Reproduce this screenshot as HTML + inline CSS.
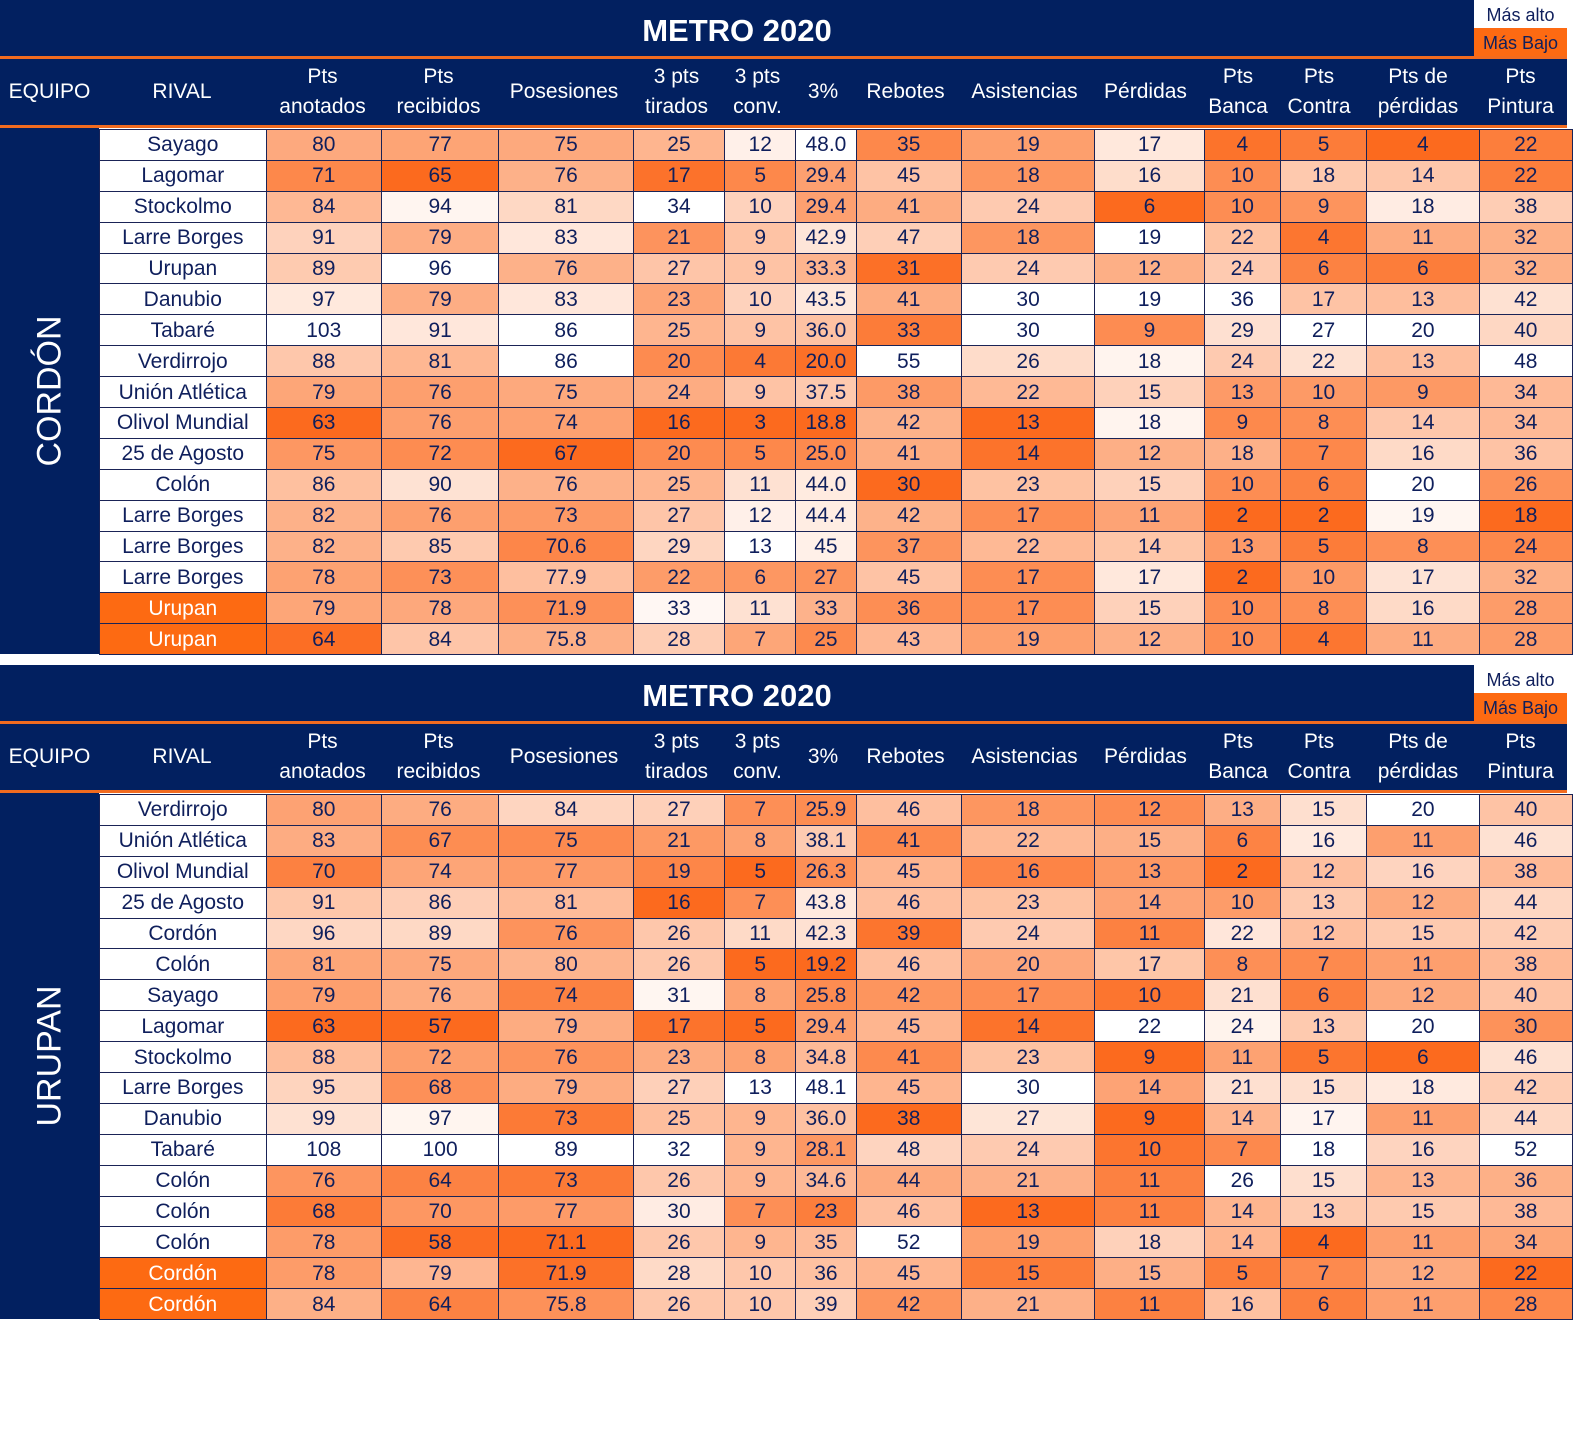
<!DOCTYPE html>
<html><head><meta charset="utf-8">
<style>
body{margin:0;width:1574px;height:1447px;background:#fff;position:relative;font-family:"Liberation Sans",sans-serif;overflow:hidden}
.blk{position:absolute;left:0;width:1567px;height:654px}
.title{position:absolute;left:0;top:0;width:1474px;height:56px;background:#022060;color:#fff;font-size:31px;font-weight:bold;text-align:center;line-height:62px}
.lg1,.lg2{position:absolute;left:1474px;width:93px;height:28px;font-size:18px;text-align:center;line-height:30px;color:#0f1f5c}
.lg1{top:0;background:#fff}
.lg2{top:28px;background:#fd6a12}
.ol{position:absolute;left:0;width:1567px;height:3px;background:#f26b1f}
.hdr{position:absolute;left:0;top:59px;width:1567px;height:66px;background:#022060}
.hdr div{position:absolute;top:0;height:66px;display:flex;align-items:center;justify-content:center;text-align:center;color:#fff;font-size:21px;line-height:30px}
.side{position:absolute;left:0;top:128px;width:99px;height:526px;background:#022060}
.side span{position:absolute;left:50%;top:50%;transform:translate(-50%,-50%) rotate(-90deg);color:#fff;font-size:34px;white-space:nowrap}
table{position:absolute;left:99px;top:129px;border-collapse:collapse;table-layout:fixed;width:1474px}
td{border:1px solid #1a2356;height:29.9px;padding:0;text-align:center;font-size:21px;color:#0f1f5c;white-space:nowrap;overflow:hidden;line-height:29px}
td.hl{background:#fd6a12;color:#fff}
</style></head><body>

<div class="blk" style="top:0">
<div class="title">METRO 2020</div>
<div class="lg1">Más alto</div><div class="lg2">Más Bajo</div>
<div class="ol" style="top:56px"></div>
<div class="hdr">
<div style="left:0;width:99px">EQUIPO</div><div style="left:99px;width:166px">RIVAL</div>
<div style="left:265px;width:115px">Pts<br>anotados</div><div style="left:380px;width:117px">Pts<br>recibidos</div>
<div style="left:497px;width:134px">Posesiones</div><div style="left:631px;width:91px">3 pts<br>tirados</div>
<div style="left:722px;width:71px">3 pts<br>conv.</div><div style="left:793px;width:60px">3%</div>
<div style="left:853px;width:105px">Rebotes</div><div style="left:958px;width:133px">Asistencias</div>
<div style="left:1091px;width:109px">Pérdidas</div><div style="left:1200px;width:76px">Pts<br>Banca</div>
<div style="left:1276px;width:86px">Pts<br>Contra</div><div style="left:1362px;width:112px">Pts de<br>pérdidas</div>
<div style="left:1474px;width:93px">Pts<br>Pintura</div>
</div>
<div class="ol" style="top:125px"></div>
<div class="side"><span>CORDÓN</span></div>
<table class="dt">
<colgroup><col style="width:166px"><col style="width:115px"><col style="width:117px"><col style="width:134px"><col style="width:91px"><col style="width:71px"><col style="width:60px"><col style="width:105px"><col style="width:133px"><col style="width:109px"><col style="width:76px"><col style="width:86px"><col style="width:112px"><col style="width:93px"></colgroup>
<tr><td>Sayago</td><td>80</td><td>77</td><td>75</td><td>25</td><td>12</td><td>48.0</td><td>35</td><td>19</td><td>17</td><td>4</td><td>5</td><td>4</td><td>22</td></tr>
<tr><td>Lagomar</td><td>71</td><td>65</td><td>76</td><td>17</td><td>5</td><td>29.4</td><td>45</td><td>18</td><td>16</td><td>10</td><td>18</td><td>14</td><td>22</td></tr>
<tr><td>Stockolmo</td><td>84</td><td>94</td><td>81</td><td>34</td><td>10</td><td>29.4</td><td>41</td><td>24</td><td>6</td><td>10</td><td>9</td><td>18</td><td>38</td></tr>
<tr><td>Larre Borges</td><td>91</td><td>79</td><td>83</td><td>21</td><td>9</td><td>42.9</td><td>47</td><td>18</td><td>19</td><td>22</td><td>4</td><td>11</td><td>32</td></tr>
<tr><td>Urupan</td><td>89</td><td>96</td><td>76</td><td>27</td><td>9</td><td>33.3</td><td>31</td><td>24</td><td>12</td><td>24</td><td>6</td><td>6</td><td>32</td></tr>
<tr><td>Danubio</td><td>97</td><td>79</td><td>83</td><td>23</td><td>10</td><td>43.5</td><td>41</td><td>30</td><td>19</td><td>36</td><td>17</td><td>13</td><td>42</td></tr>
<tr><td>Tabaré</td><td>103</td><td>91</td><td>86</td><td>25</td><td>9</td><td>36.0</td><td>33</td><td>30</td><td>9</td><td>29</td><td>27</td><td>20</td><td>40</td></tr>
<tr><td>Verdirrojo</td><td>88</td><td>81</td><td>86</td><td>20</td><td>4</td><td>20.0</td><td>55</td><td>26</td><td>18</td><td>24</td><td>22</td><td>13</td><td>48</td></tr>
<tr><td>Unión Atlética</td><td>79</td><td>76</td><td>75</td><td>24</td><td>9</td><td>37.5</td><td>38</td><td>22</td><td>15</td><td>13</td><td>10</td><td>9</td><td>34</td></tr>
<tr><td>Olivol Mundial</td><td>63</td><td>76</td><td>74</td><td>16</td><td>3</td><td>18.8</td><td>42</td><td>13</td><td>18</td><td>9</td><td>8</td><td>14</td><td>34</td></tr>
<tr><td>25 de Agosto</td><td>75</td><td>72</td><td>67</td><td>20</td><td>5</td><td>25.0</td><td>41</td><td>14</td><td>12</td><td>18</td><td>7</td><td>16</td><td>36</td></tr>
<tr><td>Colón</td><td>86</td><td>90</td><td>76</td><td>25</td><td>11</td><td>44.0</td><td>30</td><td>23</td><td>15</td><td>10</td><td>6</td><td>20</td><td>26</td></tr>
<tr><td>Larre Borges</td><td>82</td><td>76</td><td>73</td><td>27</td><td>12</td><td>44.4</td><td>42</td><td>17</td><td>11</td><td>2</td><td>2</td><td>19</td><td>18</td></tr>
<tr><td>Larre Borges</td><td>82</td><td>85</td><td>70.6</td><td>29</td><td>13</td><td>45</td><td>37</td><td>22</td><td>14</td><td>13</td><td>5</td><td>8</td><td>24</td></tr>
<tr><td>Larre Borges</td><td>78</td><td>73</td><td>77.9</td><td>22</td><td>6</td><td>27</td><td>45</td><td>17</td><td>17</td><td>2</td><td>10</td><td>17</td><td>32</td></tr>
<tr><td class="hl">Urupan</td><td>79</td><td>78</td><td>71.9</td><td>33</td><td>11</td><td>33</td><td>36</td><td>17</td><td>15</td><td>10</td><td>8</td><td>16</td><td>28</td></tr>
<tr><td class="hl">Urupan</td><td>64</td><td>84</td><td>75.8</td><td>28</td><td>7</td><td>25</td><td>43</td><td>19</td><td>12</td><td>10</td><td>4</td><td>11</td><td>28</td></tr>
</table>
</div>

<div class="blk" style="top:665px">
<div class="title">METRO 2020</div>
<div class="lg1">Más alto</div><div class="lg2">Más Bajo</div>
<div class="ol" style="top:56px"></div>
<div class="hdr">
<div style="left:0;width:99px">EQUIPO</div><div style="left:99px;width:166px">RIVAL</div>
<div style="left:265px;width:115px">Pts<br>anotados</div><div style="left:380px;width:117px">Pts<br>recibidos</div>
<div style="left:497px;width:134px">Posesiones</div><div style="left:631px;width:91px">3 pts<br>tirados</div>
<div style="left:722px;width:71px">3 pts<br>conv.</div><div style="left:793px;width:60px">3%</div>
<div style="left:853px;width:105px">Rebotes</div><div style="left:958px;width:133px">Asistencias</div>
<div style="left:1091px;width:109px">Pérdidas</div><div style="left:1200px;width:76px">Pts<br>Banca</div>
<div style="left:1276px;width:86px">Pts<br>Contra</div><div style="left:1362px;width:112px">Pts de<br>pérdidas</div>
<div style="left:1474px;width:93px">Pts<br>Pintura</div>
</div>
<div class="ol" style="top:125px"></div>
<div class="side"><span>URUPAN</span></div>
<table class="dt">
<colgroup><col style="width:166px"><col style="width:115px"><col style="width:117px"><col style="width:134px"><col style="width:91px"><col style="width:71px"><col style="width:60px"><col style="width:105px"><col style="width:133px"><col style="width:109px"><col style="width:76px"><col style="width:86px"><col style="width:112px"><col style="width:93px"></colgroup>
<tr><td>Verdirrojo</td><td>80</td><td>76</td><td>84</td><td>27</td><td>7</td><td>25.9</td><td>46</td><td>18</td><td>12</td><td>13</td><td>15</td><td>20</td><td>40</td></tr>
<tr><td>Unión Atlética</td><td>83</td><td>67</td><td>75</td><td>21</td><td>8</td><td>38.1</td><td>41</td><td>22</td><td>15</td><td>6</td><td>16</td><td>11</td><td>46</td></tr>
<tr><td>Olivol Mundial</td><td>70</td><td>74</td><td>77</td><td>19</td><td>5</td><td>26.3</td><td>45</td><td>16</td><td>13</td><td>2</td><td>12</td><td>16</td><td>38</td></tr>
<tr><td>25 de Agosto</td><td>91</td><td>86</td><td>81</td><td>16</td><td>7</td><td>43.8</td><td>46</td><td>23</td><td>14</td><td>10</td><td>13</td><td>12</td><td>44</td></tr>
<tr><td>Cordón</td><td>96</td><td>89</td><td>76</td><td>26</td><td>11</td><td>42.3</td><td>39</td><td>24</td><td>11</td><td>22</td><td>12</td><td>15</td><td>42</td></tr>
<tr><td>Colón</td><td>81</td><td>75</td><td>80</td><td>26</td><td>5</td><td>19.2</td><td>46</td><td>20</td><td>17</td><td>8</td><td>7</td><td>11</td><td>38</td></tr>
<tr><td>Sayago</td><td>79</td><td>76</td><td>74</td><td>31</td><td>8</td><td>25.8</td><td>42</td><td>17</td><td>10</td><td>21</td><td>6</td><td>12</td><td>40</td></tr>
<tr><td>Lagomar</td><td>63</td><td>57</td><td>79</td><td>17</td><td>5</td><td>29.4</td><td>45</td><td>14</td><td>22</td><td>24</td><td>13</td><td>20</td><td>30</td></tr>
<tr><td>Stockolmo</td><td>88</td><td>72</td><td>76</td><td>23</td><td>8</td><td>34.8</td><td>41</td><td>23</td><td>9</td><td>11</td><td>5</td><td>6</td><td>46</td></tr>
<tr><td>Larre Borges</td><td>95</td><td>68</td><td>79</td><td>27</td><td>13</td><td>48.1</td><td>45</td><td>30</td><td>14</td><td>21</td><td>15</td><td>18</td><td>42</td></tr>
<tr><td>Danubio</td><td>99</td><td>97</td><td>73</td><td>25</td><td>9</td><td>36.0</td><td>38</td><td>27</td><td>9</td><td>14</td><td>17</td><td>11</td><td>44</td></tr>
<tr><td>Tabaré</td><td>108</td><td>100</td><td>89</td><td>32</td><td>9</td><td>28.1</td><td>48</td><td>24</td><td>10</td><td>7</td><td>18</td><td>16</td><td>52</td></tr>
<tr><td>Colón</td><td>76</td><td>64</td><td>73</td><td>26</td><td>9</td><td>34.6</td><td>44</td><td>21</td><td>11</td><td>26</td><td>15</td><td>13</td><td>36</td></tr>
<tr><td>Colón</td><td>68</td><td>70</td><td>77</td><td>30</td><td>7</td><td>23</td><td>46</td><td>13</td><td>11</td><td>14</td><td>13</td><td>15</td><td>38</td></tr>
<tr><td>Colón</td><td>78</td><td>58</td><td>71.1</td><td>26</td><td>9</td><td>35</td><td>52</td><td>19</td><td>18</td><td>14</td><td>4</td><td>11</td><td>34</td></tr>
<tr><td class="hl">Cordón</td><td>78</td><td>79</td><td>71.9</td><td>28</td><td>10</td><td>36</td><td>45</td><td>15</td><td>15</td><td>5</td><td>7</td><td>12</td><td>22</td></tr>
<tr><td class="hl">Cordón</td><td>84</td><td>64</td><td>75.8</td><td>26</td><td>10</td><td>39</td><td>42</td><td>21</td><td>11</td><td>16</td><td>6</td><td>11</td><td>28</td></tr>
</table>
</div>

<script>
document.querySelectorAll('table.dt').forEach(function(t){
  var rows=t.rows;
  for(var c=1;c<14;c++){
    var vals=[],mn=1e9,mx=-1e9;
    for(var r=0;r<rows.length;r++){var v=parseFloat(rows[r].cells[c].textContent);vals.push(v);if(v<mn)mn=v;if(v>mx)mx=v;}
    for(var r=0;r<rows.length;r++){
      var k=mx==mn?0:(mx-vals[r])/(mx-mn);
      var R=Math.round(255+(252-255)*k),G=Math.round(255+(106-255)*k),B=Math.round(255+(30-255)*k);
      rows[r].cells[c].style.background='rgb('+R+','+G+','+B+')';
    }
  }
});
</script>
</body></html>
